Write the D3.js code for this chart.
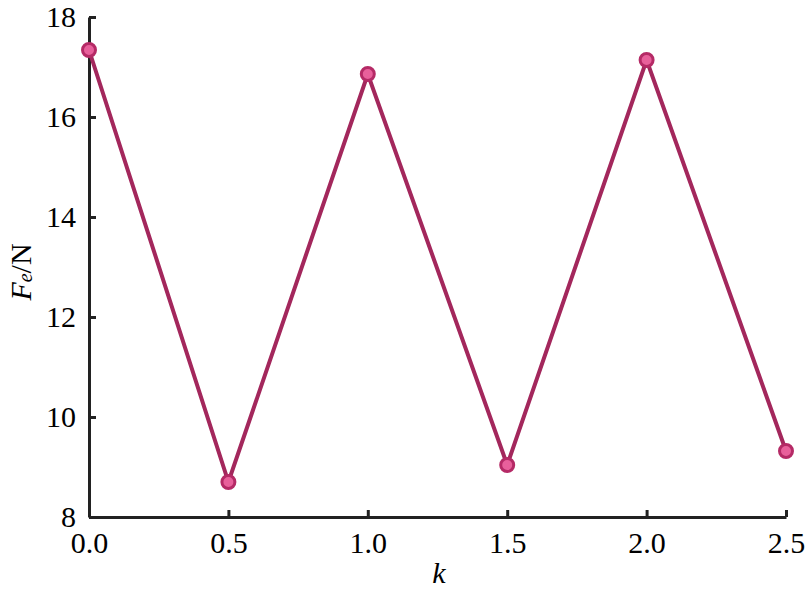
<!DOCTYPE html>
<html><head><meta charset="utf-8">
<script src="https://cdn.jsdelivr.net/npm/d3@7"></script>
<style>body{margin:0;background:#fff}svg{display:block}</style>
</head><body>
<script>
const kValues = [0.0, 0.5, 1.0, 1.5, 2.0, 2.5];
const feValues = [17.34, 8.70, 16.86, 9.04, 17.14, 9.32];
const xTicks = [0.0, 0.5, 1.0, 1.5, 2.0, 2.5];
const yTicks = [8, 10, 12, 14, 16, 18];

const W = 807, H = 597;
const m = {left: 89, right: 21, top: 17, bottom: 80};
const svg = d3.select("body").append("svg").attr("width", W).attr("height", H);
const x = d3.scaleLinear().domain([0, 2.5]).range([m.left, W - m.right]);
const y = d3.scaleLinear().domain([8, 18]).range([H - m.bottom, m.top]);
const font = '"Liberation Serif", "Times New Roman", serif';

const xAxis = svg.append("g").attr("transform", `translate(0,${H - m.bottom})`)
  .call(d3.axisBottom(x).tickValues(xTicks).tickFormat(d3.format(".1f")).tickSizeInner(-7).tickSizeOuter(0).tickPadding(14));
const yAxis = svg.append("g").attr("transform", `translate(${m.left},0)`)
  .call(d3.axisLeft(y).tickValues(yTicks).tickFormat(d3.format("d")).tickSizeInner(-7).tickSizeOuter(0).tickPadding(13));
[xAxis, yAxis].forEach(g => {
  g.attr("font-family", null).attr("font-size", null);
  g.select(".domain").attr("stroke", "#222").attr("stroke-width", 3);
  g.selectAll(".tick line").attr("stroke", "#222").attr("stroke-width", 3);
  g.selectAll(".tick text").attr("fill", "#000").style("font-family", font).style("font-size", "30px");
});
xAxis.selectAll(".tick text").attr("dy", "0.74em");

const line = d3.line().x((d, i) => x(kValues[i])).y(d => y(d));
svg.append("path").datum(feValues).attr("d", line)
  .attr("fill", "none").attr("stroke", "#a3275c").attr("stroke-width", 4);
svg.selectAll("circle.pt").data(feValues).enter().append("circle")
  .attr("cx", (d, i) => x(kValues[i])).attr("cy", d => y(d)).attr("r", 6.5)
  .attr("fill", "#e8609b").attr("stroke", "#b52a66").attr("stroke-width", 3);

svg.append("text").attr("x", 439).attr("y", 583).attr("text-anchor", "middle")
  .style("font-family", font).style("font-size", "30px").style("font-style", "italic").text("k");

const yl = svg.append("text").attr("transform", `translate(31,272) rotate(-90)`)
  .attr("text-anchor", "middle").style("font-family", font).style("font-size", "30px");
yl.append("tspan").style("font-style", "italic").text("F");
yl.append("tspan").style("font-style", "italic").style("font-size", "20px").attr("dy", 1).text("e");
yl.append("tspan").attr("dy", -1).text("/N");
</script>
</body></html>
